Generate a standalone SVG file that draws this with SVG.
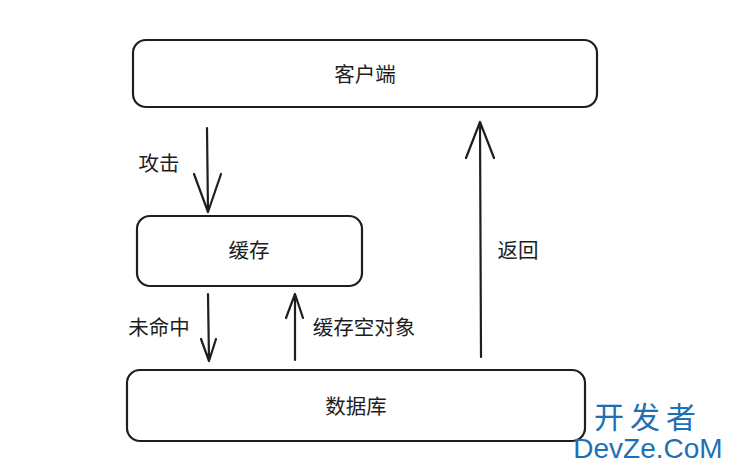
<svg xmlns="http://www.w3.org/2000/svg" width="733" height="469" viewBox="0 0 733 469">
<style>
.box{fill:#fff;stroke:#1e1e1e;stroke-width:2.2}
.t{font-family:"Noto Sans CJK SC","Liberation Sans",sans-serif;font-size:20.5px;fill:#1e1e1e;text-anchor:middle;dominant-baseline:central}
.c{stroke:#1e1e1e;stroke-width:2.2;fill:none;stroke-linecap:round;stroke-linejoin:round}
</style>
<rect width="733" height="469" fill="#fff"/>
<g id="client"><rect class="box" x="133" y="40" width="464" height="67" rx="13"/><text class="t" x="365" y="73">客户端</text></g>
<g id="cache"><rect class="box" x="137" y="216" width="225" height="70" rx="13"/><text class="t" x="249" y="249">缓存</text></g>
<g id="db"><rect class="box" x="127" y="370" width="458" height="71" rx="13"/><text class="t" x="356" y="405">数据库</text></g>
<g id="connectors">
<path class="c" d="M207 128 L208 212 M194 174 L208 212 L221 174"/>
<text class="t" x="159" y="162">攻击</text>
<path class="c" d="M208 294 L209 361 M201 339 L209 361 L216 339"/>
<text class="t" x="159" y="326">未命中</text>
<path class="c" d="M295 360 L295 294 M286 318 L295 294 L303 318"/>
<text class="t" x="364" y="326">缓存空对象</text>
<path class="c" d="M481 357 L480 122 M466 158 L480 122 L494 158"/>
<text class="t" x="518" y="249">返回</text>
</g>
<g id="watermark" font-family="Noto Sans CJK SC,sans-serif" fill="#1f6fb5">
<text x="648" y="428" font-size="30" text-anchor="middle" letter-spacing="6">开发者</text>
<text x="648" y="458" font-size="28" text-anchor="middle" font-family="Liberation Sans,sans-serif">DevZe.CoM</text>
</g>
</svg>
